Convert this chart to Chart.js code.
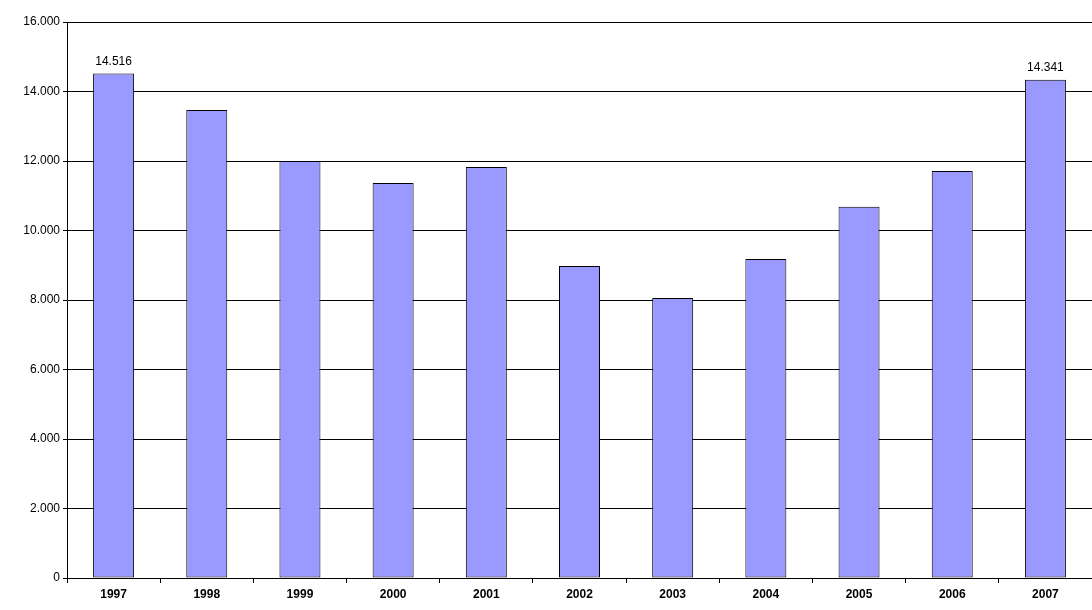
<!DOCTYPE html>
<html>
<head>
<meta charset="utf-8">
<script src="https://cdn.jsdelivr.net/npm/chart.js@4.4.1/dist/chart.umd.min.js"></script>
<style>
  html, body { margin: 0; padding: 0; background: #fff; }
  #wrap { width: 1092px; height: 610px; }
</style>
</head>
<body>
<div id="wrap"><canvas id="c"></canvas></div>
<script>
'use strict';

// ── Data ──────────────────────────────────────────────
const years  = ['1997','1998','1999','2000','2001','2002','2003','2004','2005','2006','2007'];
const values = [14516, 13470, 12000, 11370, 11830, 8980, 8060, 9180, 10680, 11710, 14341];
const labelled = [0, 10];   // only first and last bars carry a value label

const fmt = v => v.toLocaleString('de-DE');

// ── Value labels above selected bars ──────────────────
const barLabels = {
  id: 'barLabels',
  afterDatasetsDraw(chart) {
    const ctx = chart.ctx;
    const meta = chart.getDatasetMeta(0);
    ctx.save();
    ctx.font = '12px "Liberation Sans", Arial, sans-serif';
    ctx.fillStyle = '#000';
    ctx.textAlign = 'center';
    ctx.textBaseline = 'bottom';
    labelled.forEach(i => {
      const el = meta.data[i];
      ctx.fillText(fmt(values[i]), el.x, el.y - 6);
    });
    ctx.restore();
  }
};

new Chart(document.getElementById('c'), {
  type: 'bar',
  data: {
    labels: years,
    datasets: [{
      data: values,
      backgroundColor: '#9999ff',
      borderColor: '#000',
      borderWidth: 1,
      borderSkipped: false,
      barPercentage: 0.88,
      categoryPercentage: 0.5
    }]
  },
  options: {
    responsive: true,
    maintainAspectRatio: false,
    animation: false,
    layout: { padding: { top: 22, right: 0, left: 0, bottom: 0 } },
    plugins: { legend: { display: false }, tooltip: { enabled: false } },
    scales: {
      x: {
        afterFit: s => { s.height = 32; },
        grid: { offset: true, drawOnChartArea: false, color: '#000', tickLength: 5 },
        border: { color: '#000' },
        ticks: {
          color: '#000',
          padding: 4,
          font: { family: '"Liberation Sans", Arial, sans-serif', size: 12, weight: 'bold' }
        }
      },
      y: {
        min: 0, max: 16000,
        afterFit: s => { s.width = 67; },
        grid: { color: '#000', tickLength: 4 },
        border: { color: '#000' },
        ticks: {
          stepSize: 2000,
          color: '#000',
          padding: 3,
          font: { family: '"Liberation Sans", Arial, sans-serif', size: 12 },
          callback: v => fmt(v)
        }
      }
    }
  },
  plugins: [barLabels]
});
</script>
</body>
</html>
